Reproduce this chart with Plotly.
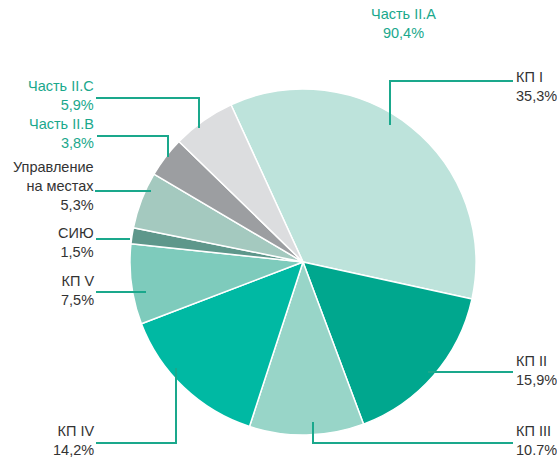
import plotly.graph_objects as go

labels = ["КП I", "КП II", "КП III", "КП IV", "КП V", "СИЮ",
          "Управление на местах", "Часть II.B", "Часть II.C"]
values = [35.3, 15.9, 10.7, 14.2, 7.5, 1.5, 5.3, 3.8, 5.9]
value_text = ["35,3%", "15,9%", "10.7%", "14,2%", "7,5%", "1,5%", "5,3%", "3,8%", "5,9%"]
colors = ["#bde3db", "#00a78e", "#98d5c8", "#00b9a3", "#7ecbbc", "#5e978b",
          "#a4c9bf", "#9c9ea1", "#dcdddf"]
group_label = "Часть II.A"
group_value = "90,4%"

W, H = 557, 457
CX, CY, R = 303, 262, 173
TEAL = "#1aa88c"
DARK = "#333333"
FONT = "Liberation Sans, Arial, sans-serif"


def px(x):
    return x / W


def py(y):
    return 1 - y / H


fig = go.Figure(go.Pie(
    labels=labels, values=values, sort=False, direction="clockwise",
    rotation=-24.6, textinfo="none", hoverinfo="label+percent",
    marker=dict(colors=colors, line=dict(color="white", width=1.5)),
    domain=dict(x=[px(CX - R), px(CX + R)], y=[py(CY + R), py(CY - R)]),
    showlegend=False,
))

lines = [
    [(390, 125), (390, 81), (513, 81)],
    [(428, 372), (513, 372)],
    [(313, 422), (313, 443), (513, 443)],
    [(176, 368), (176, 443), (96, 443)],
    [(146, 292), (96, 292)],
    [(130, 239), (96, 239)],
    [(151, 191), (95, 191)],
    [(168, 157), (168, 136), (97, 136)],
    [(199, 128), (199, 98), (96, 98)],
]
shapes = []
for pts in lines:
    path = "M " + " L ".join(f"{px(x)},{py(y)}" for x, y in pts)
    shapes.append(dict(type="path", path=path, xref="paper", yref="paper",
                       line=dict(color=TEAL, width=2)))

ann_specs = [
    (labels[0] + "<br>" + value_text[0], 515, 86, "left", DARK),
    (labels[1] + "<br>" + value_text[1], 515, 370, "left", DARK),
    (labels[2] + "<br>" + value_text[2], 515, 440, "left", DARK),
    (labels[3] + "<br>" + value_text[3], 95, 440, "right", DARK),
    (labels[4] + "<br>" + value_text[4], 95, 290, "right", DARK),
    (labels[5] + "<br>" + value_text[5], 95, 242, "right", DARK),
    ("Управление<br>на местах<br>" + value_text[6], 95, 186, "right", DARK),
    (labels[7] + "<br>" + value_text[7], 95, 133, "right", TEAL),
    (labels[8] + "<br>" + value_text[8], 95, 96, "right", TEAL),
    (group_label + "<br>" + group_value, 403, 24, "center", TEAL),
]
annotations = []
for text, x, y, xa, col in ann_specs:
    annotations.append(dict(
        text=text, x=px(x), y=py(y), xref="paper", yref="paper",
        xanchor=xa, yanchor="middle", showarrow=False,
        align=xa, borderpad=0,
        font=dict(family=FONT, size=14.5, color=col)))

fig.update_layout(
    width=W, height=H, margin=dict(l=0, r=0, t=0, b=0),
    paper_bgcolor="white", plot_bgcolor="white",
    shapes=shapes, annotations=annotations,
)
fig.write_html("out.html", config={"displayModeBar": False},
               post_script="document.body.style.margin='0px';")
